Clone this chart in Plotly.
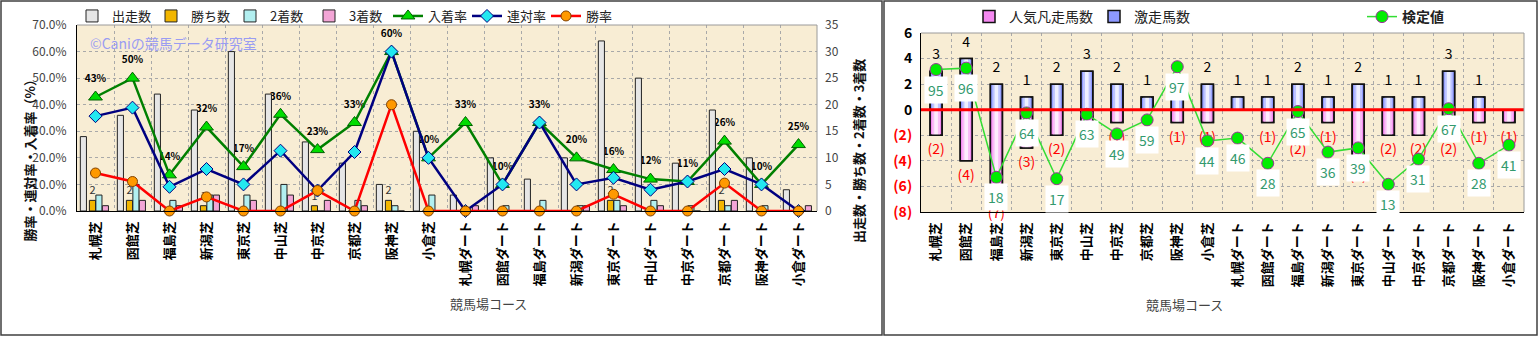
import plotly.graph_objects as go

W, H = 1539, 337
FONT = "Noto Sans CJK JP"

# ---- data -------------------------------------------------------------
courses = ["札幌芝", "函館芝", "福島芝", "新潟芝", "東京芝", "中山芝", "中京芝", "京都芝", "阪神芝", "小倉芝",
           "札幌ダート", "函館ダート", "福島ダート", "新潟ダート", "東京ダート", "中山ダート", "中京ダート",
           "京都ダート", "阪神ダート", "小倉ダート"]

starts = [14, 18, 22, 19, 30, 22, 13, 9, 5, 15, 3, 10, 6, 10, 32, 25, 9, 19, 10, 4]
wins = [2, 2, 0, 1, 0, 0, 1, 0, 2, 0, 0, 0, 0, 0, 2, 0, 0, 2, 0, 0]
seconds = [3, 5, 2, 3, 3, 5, 0, 2, 1, 3, 0, 1, 2, 1, 2, 2, 1, 1, 1, 0]
thirds = [1, 2, 1, 3, 2, 3, 2, 1, 0, 0, 1, 0, 0, 1, 1, 1, 0, 2, 0, 1]

place_rate = [42.9, 50.0, 13.6, 31.6, 16.7, 36.4, 23.1, 33.3, 60.0, 20.0,
              33.3, 10.0, 33.3, 20.0, 15.6, 12.0, 11.1, 26.3, 10.0, 25.0]
rentai_rate = [35.7, 38.9, 9.1, 15.8, 10.0, 22.7, 7.7, 22.2, 60.0, 20.0,
               0.0, 10.0, 33.3, 10.0, 12.5, 8.0, 11.1, 15.8, 10.0, 0.0]
win_rate = [14.3, 11.1, 0.0, 5.3, 0.0, 0.0, 7.7, 0.0, 40.0, 0.0,
            0.0, 0.0, 0.0, 0.0, 6.3, 0.0, 0.0, 10.5, 0.0, 0.0]

upset_horses = [3, 4, 2, 1, 2, 3, 2, 1, 1, 2, 1, 1, 2, 1, 2, 1, 1, 3, 1, 0]     # 激走馬数
flop_horses = [2, 4, 7, 3, 2, 1, 1, 0, 1, 1, 0, 1, 2, 1, 4, 2, 2, 2, 1, 1]      # 人気凡走馬数
test_value = [95, 96, 18, 64, 17, 63, 49, 59, 97, 44, 46, 28, 65, 36, 39, 13, 31, 67, 28, 41]  # 検定値

right_ticks = [-8, -6, -4, -2, 0, 2, 4, 6]


def px_x(x):
    return x / W


def px_y(y):
    return 1 - y / H


fig = go.Figure()

# ---- left panel -------------------------------------------------------
# percentage labels for 入着率 sit on the base layer, beneath bars and lines
fig.add_trace(go.Scatter(
    x=courses, y=place_rate, mode="markers+text",
    text=[f"{v:.0f}%" for v in place_rate], textposition="top center",
    marker=dict(size=18, color="rgba(0,0,0,0)"),
    textfont=dict(size=10, color="black", family=FONT, weight="bold"),
    showlegend=False, hoverinfo="skip", xaxis="x", yaxis="y"))

bar_w = 0.165
bar_specs = [
    ("出走数", starts, "#e6e6e6", -0.41),
    ("勝ち数", wins, "#f2b600", -0.165),
    ("2着数", seconds, "#b2eff0", 0.01),
    ("3着数", thirds, "#f3a5d6", 0.185),
]
for name, vals, color, off in bar_specs:
    kw = {}
    if name == "勝ち数":
        kw = dict(text=[str(v) if v else "" for v in vals], textposition="outside",
                  textfont=dict(size=11, color="#333333", family=FONT), constraintext="none",
                  cliponaxis=False)
    fig.add_trace(go.Bar(
        x=courses, y=vals, name=name, width=bar_w, offset=off,
        marker=dict(color=color, line=dict(color="#222222", width=1)),
        xaxis="x", yaxis="y2", legend="legend", **kw))

line_specs = [
    ("入着率", place_rate, "#008000", dict(symbol="triangle-up", size=12, color="#00dd00",
                                          line=dict(color="#006000", width=1))),
    ("連対率", rentai_rate, "#000080", dict(symbol="diamond", size=10, color="#22e8f0",
                                          line=dict(color="#000080", width=1))),
    ("勝率", win_rate, "#ff0000", dict(symbol="circle", size=10, color="#ff9900",
                                      line=dict(color="#804000", width=1))),
]
for name, vals, color, mk in line_specs:
    fig.add_trace(go.Scatter(
        x=courses, y=vals, name=name, mode="lines+markers",
        line=dict(color=color, width=2.5), marker=mk,
        xaxis="x", yaxis="y3", legend="legend", cliponaxis=False))

# ---- right panel ------------------------------------------------------
# each bar series is shaded: full-width fill, lighter inner strips, then an outline on top
right_series = [
    ("人気凡走馬数", [-v for v in flop_horses], ["#f589f1", "#f9bdf6", "#fdedfc"]),
    ("激走馬数", upset_horses, ["#8d98ff", "#bcc3ff", "#eef0ff"]),
]
for name, vals, shades in right_series:
    fig.add_trace(go.Bar(
        x=courses, y=vals, name=name, width=0.4, offset=-0.2,
        marker=dict(color=shades[0], line=dict(color="#111111", width=1.5)),
        xaxis="x2", yaxis="y4", legend="legend2"))
    for w, c in ((0.26, shades[1]), (0.12, shades[2])):
        fig.add_trace(go.Bar(
            x=courses, y=vals, width=w, offset=-w / 2, showlegend=False, hoverinfo="skip",
            marker=dict(color=c, line=dict(width=0)), xaxis="x2", yaxis="y4"))
    fig.add_trace(go.Bar(
        x=courses, y=vals, width=0.4, offset=-0.2, showlegend=False, hoverinfo="skip",
        marker=dict(color="rgba(0,0,0,0)", line=dict(color="#111111", width=1.5)),
        xaxis="x2", yaxis="y4"))

# count labels: above the 激走 bars, in parentheses below the 凡走 bars
fig.add_trace(go.Scatter(
    x=courses, y=upset_horses, mode="markers+text",
    text=[str(v) if v else "" for v in upset_horses], textposition="top center",
    marker=dict(size=12, color="rgba(0,0,0,0)"),
    textfont=dict(size=14, color="black", family=FONT),
    showlegend=False, hoverinfo="skip", cliponaxis=False, xaxis="x2", yaxis="y4"))
fig.add_trace(go.Scatter(
    x=courses, y=[-v for v in flop_horses], mode="markers+text",
    text=[f"({v})" if v else "" for v in flop_horses], textposition="bottom center",
    marker=dict(size=12, color="rgba(0,0,0,0)"),
    textfont=dict(size=14, color="#ff0000", family=FONT),
    showlegend=False, hoverinfo="skip", cliponaxis=False, xaxis="x2", yaxis="y4"))

fig.add_trace(go.Scatter(
    x=courses, y=test_value, name="検定値", mode="lines+markers",
    line=dict(color="#33dd33", width=1.5),
    marker=dict(symbol="circle", size=12, color="#00ee00", line=dict(color="#993399", width=1)),
    xaxis="x2", yaxis="y5", legend="legend3", cliponaxis=False))

annotations = []
for c, v in zip(courses, test_value):
    annotations.append(dict(
        x=c, y=v, xref="x2", yref="y5", text=str(v), showarrow=False, yshift=-20,
        font=dict(size=14, color="#339a6e", family=FONT), bgcolor="white", borderpad=3))

# watermark and titles
annotations += [
    dict(x=px_x(88), y=px_y(43), xref="paper", yref="paper", xanchor="left", yanchor="middle",
         text="©Caniの競馬データ研究室", showarrow=False,
         font=dict(size=14, color="#9a9cf2", family=FONT)),
    dict(x=px_x(17), y=px_y(157), xref="paper", yref="paper", textangle=-90,
         text="<b>勝率・連対率・入着率（%）</b>", showarrow=False,
         font=dict(size=13, color="#111111", family=FONT)),
    dict(x=px_x(858), y=px_y(151), xref="paper", yref="paper", textangle=-90,
         text="<b>出走数・勝ち数・2着数・3着数</b>", showarrow=False,
         font=dict(size=13, color="#111111", family=FONT)),
    dict(x=px_x(448), y=px_y(315), xref="paper", yref="paper",
         text="競馬場コース", showarrow=False, font=dict(size=13, color="#444444", family=FONT)),
    dict(x=px_x(1225), y=px_y(316), xref="paper", yref="paper",
         text="競馬場コース", showarrow=False, font=dict(size=13, color="#444444", family=FONT)),
]

shapes = [
    # zero reference line of the right panel
    dict(type="line", xref="x2 domain", yref="y4", x0=0, x1=1, y0=0, y1=0,
         line=dict(color="#ff0000", width=3), layer="above"),
    # light top/right edges of both plot areas
    dict(type="line", xref="x domain", yref="y domain", x0=0, x1=1, y0=1, y1=1,
         line=dict(color="#9a9a9a", width=1)),
    dict(type="line", xref="x domain", yref="y domain", x0=1, x1=1, y0=0, y1=1,
         line=dict(color="#9a9a9a", width=1)),
    dict(type="line", xref="x2 domain", yref="y4 domain", x0=0, x1=1, y0=1, y1=1,
         line=dict(color="#9a9a9a", width=1)),
    dict(type="line", xref="x2 domain", yref="y4 domain", x0=1, x1=1, y0=0, y1=1,
         line=dict(color="#9a9a9a", width=1)),
    # chart frames
    dict(type="rect", xref="paper", yref="paper", x0=px_x(1), x1=px_x(882), y0=px_y(335), y1=px_y(1),
         line=dict(color="#404040", width=1.5)),
    dict(type="rect", xref="paper", yref="paper", x0=px_x(884), x1=px_x(1537), y0=px_y(335), y1=px_y(1),
         line=dict(color="#404040", width=1.5)),
]

grid = dict(showgrid=True, gridcolor="#a9a9a9", griddash="dot", gridwidth=1)
xcat = dict(type="category", tickson="boundaries", tickangle=-90, ticks="", ticklabelstandoff=4,
            tickfont=dict(size=13, color="black", family=FONT, weight="bold"),
            showline=True, linecolor="black", linewidth=1, range=[-0.5, 19.5], **grid)

fig.update_layout(
    width=W, height=H, margin=dict(l=0, r=0, t=0, b=0, autoexpand=False),
    paper_bgcolor="white", plot_bgcolor="#f8edd4",
    font=dict(family=FONT),
    showlegend=True,
    xaxis=dict(domain=[px_x(77), px_x(817)], anchor="y", **xcat),
    yaxis=dict(domain=[px_y(211), px_y(25)], range=[0, 70], dtick=10, tickformat=".1f", ticksuffix="%",
               tickfont=dict(size=12, color="#444444", family=FONT), zeroline=False,
               showline=True, linecolor="black", ticks="", ticklabelstandoff=7, **grid),
    yaxis2=dict(overlaying="y", anchor="x", side="right", range=[0, 35], dtick=5, showgrid=False,
                zeroline=False, tickfont=dict(size=12, color="#444444", family=FONT), ticks="",
                ticklabelstandoff=7),
    yaxis3=dict(overlaying="y", anchor="x", range=[0, 70], visible=False),
    xaxis2=dict(domain=[px_x(921), px_x(1524)], anchor="y4", **xcat),
    yaxis4=dict(domain=[px_y(212), px_y(33)], anchor="x2", range=[-8, 6],
                tickvals=right_ticks,
                ticktext=[f'<span style="color:#ff0000">({-t})</span>' if t < 0 else str(t)
                          for t in right_ticks],
                tickfont=dict(size=14, color="black", family=FONT, weight="bold"), zeroline=False,
                showline=True, linecolor="black", ticks="", ticklabelstandoff=5, **grid),
    yaxis5=dict(overlaying="y4", anchor="x2", range=[-6.8, 121.1], visible=False),
    legend=dict(orientation="h", x=px_x(72), y=px_y(16), xanchor="left", yanchor="middle",
                font=dict(size=13, color="#222222", family=FONT), bgcolor="rgba(0,0,0,0)",
                entrywidth=34, entrywidthmode="pixels", traceorder="normal"),
    legend2=dict(orientation="h", x=px_x(969), y=px_y(17), xanchor="left", yanchor="middle",
                 font=dict(size=14, color="#222222", family=FONT), bgcolor="rgba(0,0,0,0)",
                 entrywidth=80, entrywidthmode="pixels", traceorder="normal"),
    legend3=dict(orientation="h", x=px_x(1362), y=px_y(17), xanchor="left", yanchor="middle",
                 font=dict(size=14, color="#222222", family=FONT, weight="bold"),
                 bgcolor="rgba(0,0,0,0)"),
    annotations=annotations,
    shapes=shapes,
)

fig.write_html("out.html")
